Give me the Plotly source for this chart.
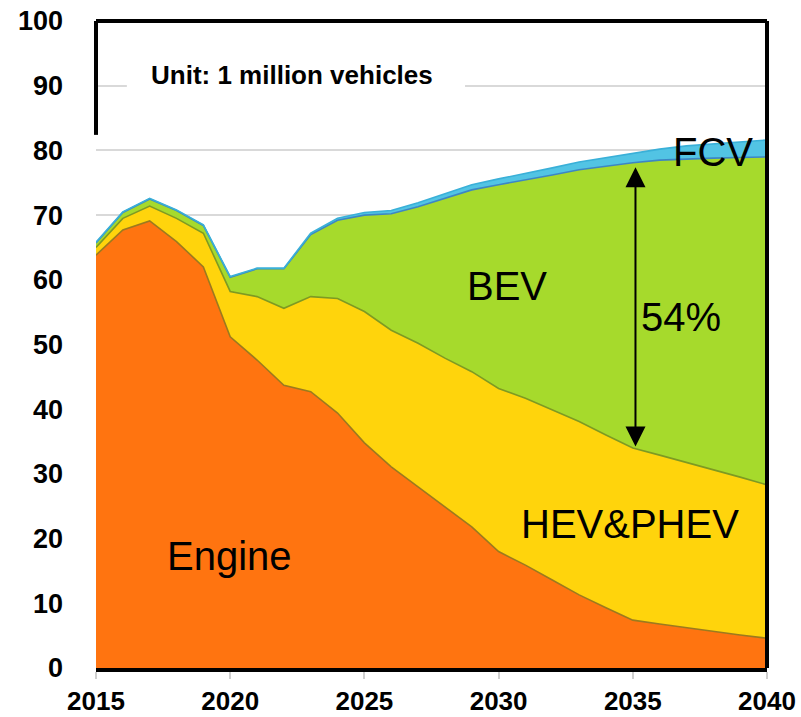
import plotly.graph_objects as go

years = list(range(2015, 2041))
engine = [63.8, 67.7, 69.1, 65.9, 62.0, 51.2, 47.6, 43.7, 42.7, 39.4, 34.8, 31.1, 28.0,
          24.9, 21.8, 18.0, 15.9, 13.6, 11.3, 9.3, 7.4, 6.8, 6.2, 5.7, 5.1, 4.6]
hev_phev = [1.2, 1.8, 2.3, 3.6, 5.2, 7.0, 9.8, 11.9, 14.7, 17.7, 20.3, 21.1, 22.2,
            23.0, 24.0, 25.2, 25.8, 26.3, 26.8, 26.7, 26.6, 26.1, 25.6, 24.9, 24.4, 23.7]
bev = [0.7, 0.9, 1.1, 1.2, 1.2, 2.2, 4.3, 6.1, 9.6, 12.1, 14.9, 18.0, 21.1,
       24.7, 28.1, 31.5, 33.7, 36.3, 38.9, 41.6, 44.1, 45.6, 46.9, 48.2, 49.4, 50.7]
fcv = [0.1, 0.1, 0.1, 0.1, 0.1, 0.1, 0.1, 0.1, 0.2, 0.3, 0.4, 0.5, 0.6,
       0.7, 0.8, 0.9, 1.0, 1.1, 1.2, 1.3, 1.4, 1.7, 2.0, 2.2, 2.4, 2.6]

series = [
    ("Engine", engine, "#FF7410", "#9C7A1E"),
    ("HEV&PHEV", hev_phev, "#FFD40C", "#7E9A22"),
    ("BEV", bev, "#A6DA2C", "#3C86C4"),
    ("FCV", fcv, "#52C4E4", "#3AB0D8"),
]

x_ticks = [2015, 2020, 2025, 2030, 2035, 2040]
y_ticks = list(range(0, 101, 10))

fig = go.Figure()
for name, vals, fill, edge in series:
    fig.add_trace(go.Scatter(
        x=years, y=vals, name=name, mode="lines", stackgroup="one",
        fillcolor=fill, line=dict(color=edge, width=1.6),
        hoverinfo="x+y+name",
    ))

label_font = dict(family="Arial", size=40, color="black")
fig.add_annotation(x=2019.97, y=17.3, text="Engine", showarrow=False, font=label_font)
fig.add_annotation(x=2034.9, y=22.3, text="HEV&PHEV", showarrow=False, font=label_font)
fig.add_annotation(x=2030.3, y=59.1, text="BEV", showarrow=False, font=label_font)
fig.add_annotation(x=2036.8, y=54.3, text="54%", showarrow=False, font=label_font)
fig.add_annotation(x=2038.0, y=79.8, text="FCV", showarrow=False, font=label_font)

# double-headed arrow
fig.add_annotation(x=2035.1, y=77.4, ax=2035.1, ay=34.0, xref="x", yref="y",
                   axref="x", ayref="y", text="", showarrow=True,
                   arrowhead=2, startarrowhead=2, arrowside="end+start",
                   arrowsize=2.0, startarrowsize=2.0, arrowwidth=2, arrowcolor="black")

# white box behind unit label
fig.add_shape(type="rect", xref="x", yref="y", x0=2016.15, x1=2028.75, y0=88.0, y1=95.5,
              fillcolor="white", line=dict(width=0), layer="above")
fig.add_annotation(x=2022.3, y=91.6, text="Unit: 1 million vehicles", showarrow=False,
                   font=dict(family="Arial", size=26, color="black", weight="bold"))

# frame
frame = dict(color="black", width=4)
fig.add_shape(type="line", xref="paper", yref="paper", x0=0, x1=1, y0=1, y1=1, line=frame)
fig.add_shape(type="line", xref="paper", yref="paper", x0=1, x1=1, y0=0, y1=1, line=frame)
fig.add_shape(type="line", xref="paper", yref="paper", x0=0, x1=0, y0=0.824, y1=1, line=frame)

fig.update_layout(
    width=801, height=717,
    margin=dict(l=96, r=34, t=21, b=49, autoexpand=False),
    paper_bgcolor="white", plot_bgcolor="white",
    showlegend=False,
    xaxis=dict(range=[2015, 2040], tickvals=x_ticks, ticktext=[str(v) for v in x_ticks],
               automargin=False, ticklabeloverflow="allow",
               showgrid=False, zeroline=False, showline=True, linecolor="black", linewidth=4,
               ticks="outside", ticklen=7, tickwidth=2, tickcolor="#cfcfcf",
               ticklabelstandoff=0,
               tickfont=dict(family="Arial", size=26, color="black", weight="bold")),
    yaxis=dict(range=[0, 100], tickvals=y_ticks, ticktext=[str(v) for v in y_ticks],
               automargin=False, ticklabeloverflow="allow",
               showgrid=True, gridcolor="#d9d9d9", gridwidth=1.5, zeroline=False,
               showline=False, ticks="", ticklabelstandoff=32,
               tickfont=dict(family="Arial", size=27, color="black", weight="bold")),
)

fig.write_html("out.html", config={"displayModeBar": False},
               post_script="document.body.style.margin='0';document.body.style.overflow='hidden';")
